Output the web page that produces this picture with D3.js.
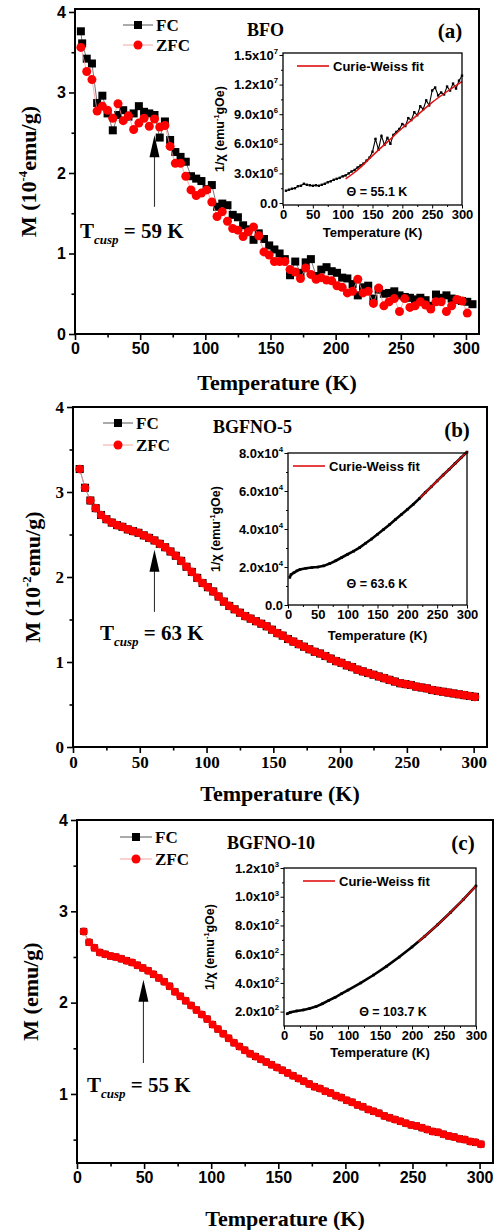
<!DOCTYPE html>
<html><head><meta charset="utf-8">
<script src="https://cdn.jsdelivr.net/npm/d3@7"></script>
<style>body{margin:0;background:#fff}svg{display:block}</style>
</head><body>
<svg id="c" width="497" height="1230"></svg>
<script>
// ---------------- DATA ----------------
// Panel (a) BFO, M in 1e-4 emu/g
const tA_fc = [4.5,5.5,9,13,17,21,25,29,33,37,41,45,49,53,57,61,65,69,73,77,81,85,89,93,97,101,105,109,113,117,121,125,129,133,137,141,145,149,153,157,161,165,169,173,177,181,185,189,193,197,201,205,209,213,217,221,225,229,233,237,241,245,249,253,257,261,265,269,273,277,281,285,289,293,297,301,305];
const mA_fc = [3.76,3.61,3.42,3.36,2.87,2.96,2.74,2.53,2.72,2.78,2.70,2.74,2.83,2.76,2.74,2.72,2.44,2.64,2.41,2.26,2.20,2.14,1.96,1.93,1.90,1.80,1.85,1.58,1.62,1.60,1.48,1.45,1.35,1.30,1.17,1.25,1.18,1.10,1.05,1.00,0.93,0.73,0.90,0.76,0.89,0.93,0.72,0.80,0.83,0.78,0.76,0.70,0.69,0.62,0.48,0.58,0.60,0.44,0.55,0.50,0.51,0.53,0.48,0.46,0.45,0.43,0.45,0.42,0.35,0.49,0.45,0.48,0.44,0.42,0.41,0.40,0.37];
const tA_zfc = [4.5,9,13,17,21,25,29,33,37,41,45,49,53,57,61,65,69,73,77,81,85,89,93,97,101,105,109,113,117,121,125,129,133,137,141,145,149,153,157,161,165,169,173,177,181,185,189,193,197,201,205,209,213,217,221,225,229,233,237,241,245,249,253,257,261,265,269,273,277,281,285,289,293,297,301];
const mA_zfc = [3.56,3.26,3.16,2.77,2.83,2.78,2.68,2.86,2.65,2.71,2.54,2.62,2.68,2.58,2.67,2.57,2.59,2.33,2.12,2.12,1.96,1.79,1.72,1.75,1.79,1.64,1.46,1.52,1.40,1.31,1.29,1.21,1.27,1.33,1.22,1.02,0.98,0.90,0.90,0.90,0.80,0.77,0.69,0.82,0.74,0.68,0.70,0.67,0.66,0.60,0.58,0.51,0.53,0.68,0.51,0.53,0.38,0.57,0.35,0.40,0.44,0.28,0.44,0.33,0.35,0.40,0.36,0.31,0.40,0.40,0.28,0.35,0.43,0.41,0.26];
// Inset (a): 1/chi
const tInvA = [5,10,15,20,25,30,35,40,45,50,55,60,65,70,75,80,85,90,95,100,105,110,115,120,125,130,135,140,145,150,155,160,165,170,175,180,185,190,195,200,205,210,215,220,225,230,235,240,245,250,255,260,265,270,275,280,285,290,295,300];
const invA = [1.25e6,1.35e6,1.45e6,1.5e6,1.7e6,1.75e6,1.95e6,1.85e6,1.8e6,1.75e6,1.8e6,1.75e6,1.85e6,1.95e6,2.1e6,2.2e6,2.35e6,2.45e6,2.55e6,2.7e6,2.8e6,3.0e6,3.2e6,3.35e6,3.6e6,3.8e6,4.0e6,4.3e6,4.6e6,5.2e6,6.5e6,5.4e6,6.8e6,5.9e6,6.6e6,6.0e6,6.9e6,7.2e6,7.5e6,8.0e6,7.8e6,8.6e6,8.4e6,9.2e6,8.9e6,9.8e6,9.5e6,10.4e6,9.9e6,11.4e6,11.7e6,10.9e6,11.2e6,11.0e6,11.8e6,11.4e6,12.1e6,11.6e6,12.4e6,12.9e6];
const tFitA = [105,125,150,175,200,225,250,275,300];
const fitA = [2.45e6,3.35e6,4.8e6,6.2e6,7.6e6,8.9e6,10.2e6,11.3e6,12.3e6];

// Panel (b) BGFNO-5, M in 1e-2 emu/g (FC and ZFC coincide)
const tB = [5,9,13,17,21,25,29,33,37,41,45,49,53,57,61,65,69,73,77,81,85,89,93,97,101,105,109,113,117,121,125,129,133,137,141,145,149,153,157,161,165,169,173,177,181,185,189,193,197,201,205,209,213,217,221,225,229,233,237,241,245,249,253,257,261,265,269,273,277,281,285,289,293,297,301];
const mB_zfc = [3.27,3.05,2.90,2.81,2.73,2.68,2.64,2.61,2.59,2.56,2.54,2.52,2.49,2.46,2.43,2.39,2.35,2.30,2.25,2.19,2.12,2.06,1.99,1.93,1.88,1.83,1.77,1.71,1.66,1.62,1.58,1.54,1.51,1.48,1.45,1.42,1.38,1.34,1.31,1.27,1.24,1.21,1.18,1.15,1.12,1.10,1.07,1.04,1.01,0.99,0.96,0.94,0.91,0.89,0.87,0.85,0.83,0.81,0.79,0.77,0.75,0.74,0.73,0.71,0.70,0.69,0.67,0.66,0.65,0.64,0.63,0.62,0.61,0.60,0.59];
const mB_fc = mB_zfc;
const tInvB = [3,5,10,15,20,30,40,50,60,70,80,90,100,110,120,130,140,150,160,170,180,190,200,210,220,230,240,250,260,270,280,290,300];
const invB = [1.45e4,1.6e4,1.7e4,1.8e4,1.87e4,1.93e4,1.97e4,2.0e4,2.06e4,2.18e4,2.33e4,2.5e4,2.67e4,2.83e4,3.02e4,3.25e4,3.47e4,3.72e4,3.97e4,4.23e4,4.5e4,4.76e4,5.03e4,5.3e4,5.6e4,5.92e4,6.22e4,6.53e4,6.84e4,7.14e4,7.45e4,7.75e4,8.05e4];
const tFitB = [222,240,260,280,300];
const fitB = [5.66e4,6.22e4,6.84e4,7.45e4,8.05e4];

// Panel (c) BGFNO-10, M in emu/g
const tC = tB;
const mC_zfc = [2.78,2.66,2.60,2.55,2.53,2.51,2.50,2.48,2.46,2.44,2.41,2.38,2.35,2.31,2.27,2.23,2.18,2.12,2.07,2.02,1.97,1.92,1.87,1.82,1.76,1.71,1.66,1.61,1.56,1.52,1.48,1.44,1.41,1.38,1.35,1.32,1.29,1.26,1.23,1.20,1.17,1.14,1.11,1.08,1.06,1.03,1.01,0.98,0.96,0.93,0.91,0.88,0.86,0.83,0.81,0.79,0.76,0.74,0.72,0.70,0.68,0.66,0.65,0.63,0.61,0.59,0.58,0.56,0.54,0.53,0.51,0.50,0.48,0.47,0.45];
const mC_fc = mC_zfc;
const tInvC = [5,10,20,30,40,50,60,70,80,90,100,120,140,160,180,200,220,240,260,280,300];
const invC = [185,195,205,212,222,235,255,278,300,325,350,400,455,515,580,650,725,805,890,980,1075];
const tFitC = [210,230,250,270,290,300];
const fitC = [687,765,847,935,1027,1075];

// Tick values
const mainXTicks = [0,50,100,150,200,250,300];
const mainXMinor = [25,75,125,175,225,275];
const insetXTicks = [0,50,100,150,200,250,300];
const insetXMinor = [25,75,125,175,225,275];
const yTicksA = [0,1,2,3,4], yMinorA = [0.5,1.5,2.5,3.5];
const yTicksC = [1,2,3,4], yMinorC = [0.5,1.5,2.5,3.5];
const insetYTicksA = [0,3e6,6e6,9e6,1.2e7,1.5e7], insetYMinorA = [1.5e6,4.5e6,7.5e6,1.05e7,1.35e7];
const insetYTicksB = [0,2e4,4e4,6e4,8e4], insetYMinorB = [1e4,3e4,5e4,7e4];
const insetYTicksC = [200,400,600,800,1000,1200], insetYMinorC = [300,500,700,900,1100];

// ---------------- DRAW ----------------
const svg = d3.select("#c");
const SANS = "'Liberation Sans', Arial, sans-serif";
const SERIF = "'Liberation Serif', 'Times New Roman', serif";

function rich(g, x, y, parts, o) {
  const t = g.append("text").attr("x", x).attr("y", y)
    .attr("font-family", o.font).attr("font-size", o.fs).attr("font-weight", "bold")
    .attr("text-anchor", o.anchor || "start").attr("fill", "#000");
  if (o.rotate) t.attr("transform", `rotate(-90,${x},${y})`);
  let shift = 0;
  parts.forEach(p => {
    const s = t.append("tspan").text(p.t);
    const target = p.sup ? -o.fs * 0.42 : p.sub ? o.fs * 0.3 : 0;
    if (target !== shift) { s.attr("dy", target - shift); shift = target; }
    if (p.sup || p.sub) s.attr("font-size", o.fs * (p.sub ? 0.62 : 0.58));
    if (p.it) s.attr("font-style", "italic");
  });
  return t;
}

function axes(g, x, y, o) {
  const B = y.range()[0], L = x.range()[0];
  const ax = g.append("g").attr("transform", `translate(0,${B})`)
    .call(d3.axisBottom(x).tickValues(o.xMajor).tickSize(o.tl).tickPadding(o.pad).tickSizeOuter(0).tickFormat(d3.format("d")));
  g.append("g").attr("transform", `translate(0,${B})`)
    .call(d3.axisBottom(x).tickValues(o.xMinor).tickSize(o.tlm).tickFormat("").tickSizeOuter(0));
  const ay = g.append("g").attr("transform", `translate(${L},0)`)
    .call(d3.axisLeft(y).tickValues(o.yMajor).tickSize(o.tl).tickPadding(o.pad).tickSizeOuter(0).tickFormat(d3.format("d")));
  g.append("g").attr("transform", `translate(${L},0)`)
    .call(d3.axisLeft(y).tickValues(o.yMinor).tickSize(o.tlm).tickFormat("").tickSizeOuter(0));
  g.selectAll(".domain").remove();
  g.selectAll(".tick line").attr("stroke", "#000").attr("stroke-width", o.sw);
  g.selectAll(".tick text").attr("font-family", o.font).attr("font-size", o.fs)
    .attr("font-weight", "bold").attr("fill", "#000");
  if (o.sci) {
    ay.selectAll(".tick text").each(function (d) {
      const t = d3.select(this); t.text(null);
      if (d === 0) { t.text("0.0"); return; }
      const e = Math.floor(Math.log10(d) + 1e-9);
      const m = (d / Math.pow(10, e)).toFixed(1);
      t.append("tspan").text(m + "x10");
      t.append("tspan").attr("dy", -o.fs * 0.45).attr("font-size", o.fs * 0.6).text(e);
    });
  }
  return { ax, ay };
}

function mainPanel(p) {
  const g = svg.append("g");
  const x = d3.scaleLinear().domain([0, 310]).range([p.L, p.R]);
  const y = d3.scaleLinear().domain(p.yd).range([p.B, p.T]);
  axes(g, x, y, { xMajor: mainXTicks, xMinor: mainXMinor, yMajor: p.yt, yMinor: p.ym,
    tl: 6, tlm: 3.5, pad: 3, sw: 1.6, font: p.tickFont, fs: p.tickFs });
  const line = d3.line();
  const fc = p.tfc.map((t, i) => [x(t), y(p.mfc[i])]);
  const zfc = p.tzfc.map((t, i) => [x(t), y(p.mzfc[i])]);
  g.append("path").attr("d", line(fc)).attr("fill", "none").attr("stroke", "#555").attr("stroke-width", 0.8);
  g.selectAll(".sq").data(fc).enter().append("rect")
    .attr("x", d => d[0] - p.ms / 2).attr("y", d => d[1] - p.ms / 2)
    .attr("width", p.ms).attr("height", p.ms).attr("fill", "#000");
  g.append("path").attr("d", line(zfc)).attr("fill", "none").attr("stroke", "#f29a9a").attr("stroke-width", 0.8);
  g.selectAll(".ci").data(zfc).enter().append("circle")
    .attr("cx", d => d[0]).attr("cy", d => d[1]).attr("r", p.mr).attr("fill", "#f00");
  g.append("rect").attr("x", p.L).attr("y", p.T).attr("width", p.R - p.L).attr("height", p.B - p.T)
    .attr("fill", "none").attr("stroke", "#000").attr("stroke-width", 2);
  const lg = p.leg;
  g.append("line").attr("x1", lg.x1).attr("x2", lg.x2).attr("y1", lg.y1).attr("y2", lg.y1).attr("stroke", "#444").attr("stroke-width", 0.9);
  g.append("rect").attr("x", (lg.x1 + lg.x2) / 2 - 4).attr("y", lg.y1 - 4).attr("width", 8).attr("height", 8).attr("fill", "#000");
  g.append("line").attr("x1", lg.x1).attr("x2", lg.x2).attr("y1", lg.y2).attr("y2", lg.y2).attr("stroke", "#f29a9a").attr("stroke-width", 0.9);
  g.append("circle").attr("cx", (lg.x1 + lg.x2) / 2).attr("cy", lg.y2).attr("r", 4.5).attr("fill", "#f00");
  g.append("text").attr("x", lg.x2 + 3).attr("y", lg.y1 + 6).text("FC").attr("font-family", SERIF).attr("font-size", 17).attr("font-weight", "bold");
  g.append("text").attr("x", lg.x2 + 3).attr("y", lg.y2 + 6).text("ZFC").attr("font-family", SERIF).attr("font-size", 17).attr("font-weight", "bold");
  g.append("text").attr("x", (p.L + p.R) / 2).attr("y", p.xTitleY).attr("text-anchor", "middle")
    .attr("font-family", SERIF).attr("font-size", 22).attr("font-weight", "bold").text("Temperature (K)");
  rich(g, p.yTitleX, (p.T + p.B) / 2, p.yTitle, { font: SERIF, fs: 22, anchor: "middle", rotate: true });
  g.append("text").attr("x", p.name[1]).attr("y", p.name[2]).text(p.name[0])
    .attr("font-family", SERIF).attr("font-size", 18).attr("font-weight", "bold");
  g.append("text").attr("x", p.lab[1]).attr("y", p.lab[2]).text(p.lab[0]).attr("text-anchor", "middle")
    .attr("font-family", SERIF).attr("font-size", 21).attr("font-weight", "bold");
  const ar = p.arrow;
  const ax0 = x(ar.t), yTip = y(ar.top), yBot = y(ar.bot);
  g.append("line").attr("x1", ax0).attr("x2", ax0).attr("y1", yTip + 18).attr("y2", yBot).attr("stroke", "#333").attr("stroke-width", 1.1);
  g.append("path").attr("d", `M${ax0},${yTip} L${ax0 - 5},${yTip + 22} L${ax0 + 5},${yTip + 22} Z`).attr("fill", "#000");
  rich(g, p.tc[0], p.tc[1], [{ t: "T" }, { t: "cusp", sub: true, it: true }, { t: " = " + p.tc[2] + " K" }], { font: SERIF, fs: 21 });
  return g;
}

function inset(p) {
  const g = svg.append("g");
  const x = d3.scaleLinear().domain([0, 300]).range([p.L, p.R]);
  const y = d3.scaleLinear().domain(p.yd).range([p.B, p.T]);
  g.append("rect").attr("x", p.L).attr("y", p.T).attr("width", p.R - p.L).attr("height", p.B - p.T).attr("fill", "#fff");
  axes(g, x, y, { xMajor: insetXTicks, xMinor: insetXMinor, yMajor: p.yt, yMinor: p.ym,
    tl: 3.5, tlm: 2, pad: 1.5, sw: 1, font: SANS, fs: 13, sci: true });
  const pts = p.t.map((t, i) => [x(t), y(p.v[i])]);
  g.append("path").attr("d", d3.line()(pts)).attr("fill", "none").attr("stroke", "#000").attr("stroke-width", p.lw);
  g.selectAll(".pt").data(pts).enter().append("rect")
    .attr("x", d => d[0] - p.ps / 2).attr("y", d => d[1] - p.ps / 2).attr("width", p.ps).attr("height", p.ps).attr("fill", "#000");
  const fit = p.tf.map((t, i) => [x(t), y(p.vf[i])]);
  g.append("path").attr("d", d3.line().curve(d3.curveMonotoneX)(fit)).attr("fill", "none").attr("stroke", "#e01010").attr("stroke-width", 1.5);
  g.append("rect").attr("x", p.L).attr("y", p.T).attr("width", p.R - p.L).attr("height", p.B - p.T)
    .attr("fill", "none").attr("stroke", "#000").attr("stroke-width", 1.3);
  g.append("line").attr("x1", p.leg[0]).attr("x2", p.leg[0] + 32).attr("y1", p.leg[1]).attr("y2", p.leg[1]).attr("stroke", "#e01010").attr("stroke-width", 1.6);
  g.append("text").attr("x", p.leg[0] + 36).attr("y", p.leg[1] + 4.5).text("Curie-Weiss fit")
    .attr("font-family", SANS).attr("font-size", 13).attr("font-weight", "bold");
  g.append("text").attr("x", p.theta[0]).attr("y", p.theta[1]).attr("text-anchor", "middle").text("\u0398 = " + p.theta[2] + " K")
    .attr("font-family", SANS).attr("font-size", 12.5).attr("font-weight", "bold");
  g.append("text").attr("x", (p.L + p.R) / 2).attr("y", p.xTitleY).attr("text-anchor", "middle").text("Temperature (K)")
    .attr("font-family", SANS).attr("font-size", 13).attr("font-weight", "bold");
  rich(g, p.yTitleX, (p.T + p.B) / 2, [{ t: "1/\u03c7 (emu" }, { t: "-1", sup: true }, { t: "gOe)" }], { font: SANS, fs: 12.5, anchor: "middle", rotate: true });
}

// Panel (a)
mainPanel({ L: 75, R: 479, T: 9, B: 334, yd: [0, 4.037], yt: yTicksA, ym: yMinorA, tickFont: SANS, tickFs: 16,
  tfc: tA_fc, mfc: mA_fc, tzfc: tA_zfc, mzfc: mA_zfc, ms: 8, mr: 4.5,
  leg: { x1: 123, x2: 153, y1: 25, y2: 45 }, xTitleY: 390, yTitleX: 36,
  yTitle: [{ t: "M (10" }, { t: "-4", sup: true }, { t: "emu/g)" }],
  name: ["BFO", 247, 36], lab: ["(a)", 450, 38],
  arrow: { t: 61, top: 2.47, bot: 1.58 }, tc: [80, 238, "59"] });
inset({ L: 283, R: 462, T: 53, B: 205, yd: [-2e5, 1.52e7], yt: insetYTicksA, ym: insetYMinorA,
  t: tInvA, v: invA, tf: tFitA, vf: fitA, lw: 1.1, ps: 2.4,
  leg: [297, 66], theta: [377, 196, "55.1"], xTitleY: 237, yTitleX: 224 });

// Panel (b)
mainPanel({ L: 73, R: 487, T: 407, B: 747, yd: [0, 4], yt: yTicksA, ym: yMinorA, tickFont: SERIF, tickFs: 17,
  tfc: tB, mfc: mB_fc, tzfc: tB, mzfc: mB_zfc, ms: 8, mr: 4.3,
  leg: { x1: 103, x2: 133, y1: 423, y2: 445 }, xTitleY: 801, yTitleX: 40,
  yTitle: [{ t: "M (10" }, { t: "-2", sup: true }, { t: "emu/g)" }],
  name: ["BGFNO-5", 213, 433], lab: ["(b)", 457, 437],
  arrow: { t: 61, top: 2.32, bot: 1.59 }, tc: [100, 640, "63"] });
inset({ L: 288, R: 467, T: 453, B: 605, yd: [0, 8e4], yt: insetYTicksB, ym: insetYMinorB,
  t: tInvB, v: invB, tf: tFitB, vf: fitB, lw: 2.6, ps: 2.6,
  leg: [293, 466], theta: [377, 588, "63.6"], xTitleY: 640, yTitleX: 220 });

// Panel (c)
mainPanel({ L: 77, R: 493, T: 820, B: 1163, yd: [0.244, 4], yt: yTicksC, ym: yMinorC, tickFont: SANS, tickFs: 16,
  tfc: tC, mfc: mC_fc, tzfc: tC, mzfc: mC_zfc, ms: 7, mr: 4,
  leg: { x1: 120, x2: 152, y1: 837, y2: 859 }, xTitleY: 1226, yTitleX: 38,
  yTitle: [{ t: "M (emu/g)" }],
  name: ["BGFNO-10", 227, 849], lab: ["(c)", 463, 850],
  arrow: { t: 49.5, top: 2.25, bot: 1.34 }, tc: [87, 1092, "55"] });
inset({ L: 284, R: 476, T: 868, B: 1026, yd: [100, 1200], yt: insetYTicksC, ym: insetYMinorC,
  t: tInvC, v: invC, tf: tFitC, vf: fitC, lw: 2.6, ps: 2.6,
  leg: [303, 881], theta: [393, 1016, "103.7"], xTitleY: 1057, yTitleX: 214 });
</script>
</body></html>
